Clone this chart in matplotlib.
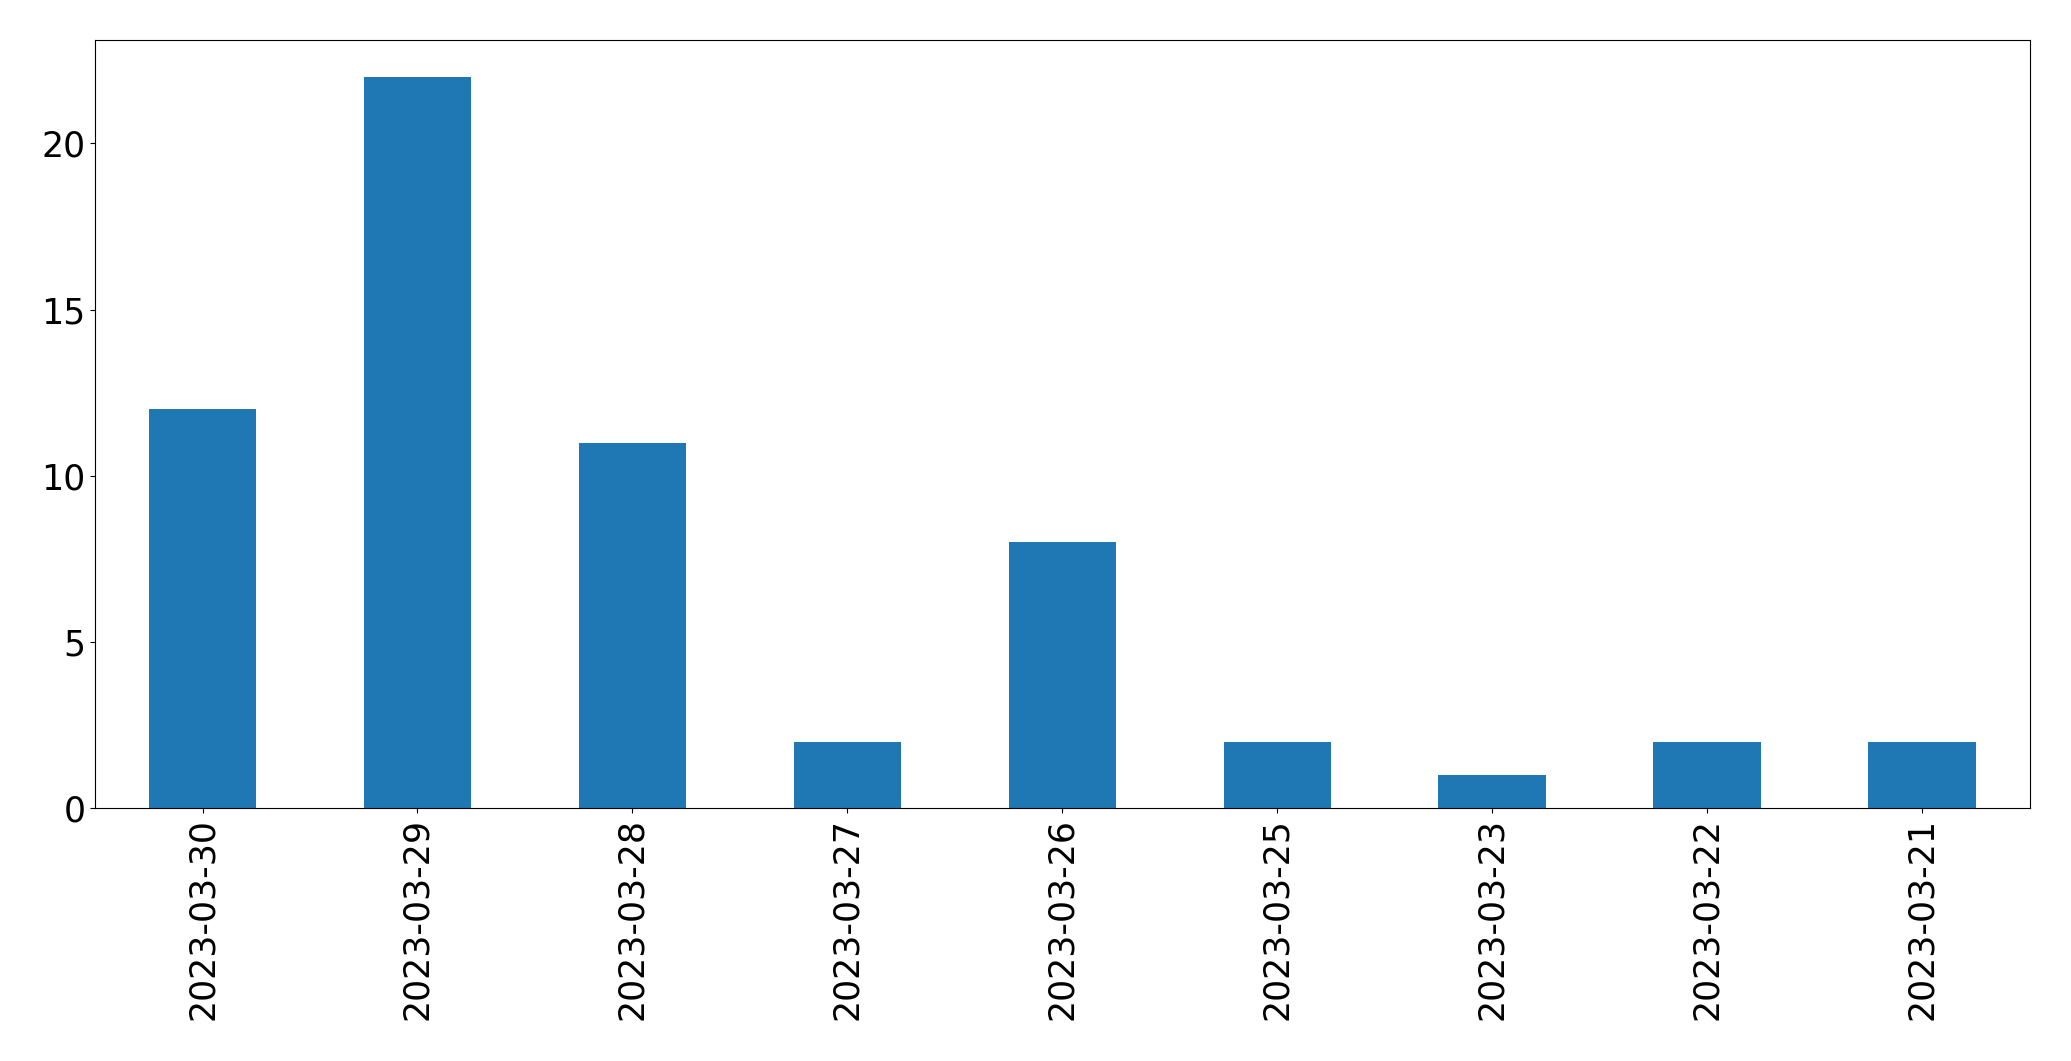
import matplotlib
matplotlib.use("Agg")
import matplotlib.pyplot as plt

dates = ["2023-03-30", "2023-03-29", "2023-03-28", "2023-03-27", "2023-03-26",
         "2023-03-25", "2023-03-23", "2023-03-22", "2023-03-21"]
counts = [12, 22, 11, 2, 8, 2, 1, 2, 2]

fig = plt.figure(figsize=(20.71, 10.61), dpi=100)
ax = fig.add_subplot(111)
fig.subplots_adjust(left=0.0459, right=0.980, top=0.962, bottom=0.238)
x = list(range(len(dates)))
ax.bar(x, counts, width=0.5, color="#1f77b4")
ax.set_xlim(-0.5, len(dates) - 0.5)
ax.set_ylim(0, max(counts) * 1.05)
ax.set_xticks(x)
ax.set_xticklabels(dates, rotation=90)
ax.set_yticks([0, 5, 10, 15, 20])
ax.tick_params(labelsize=25)
fig.savefig("out.png", dpi=100)
